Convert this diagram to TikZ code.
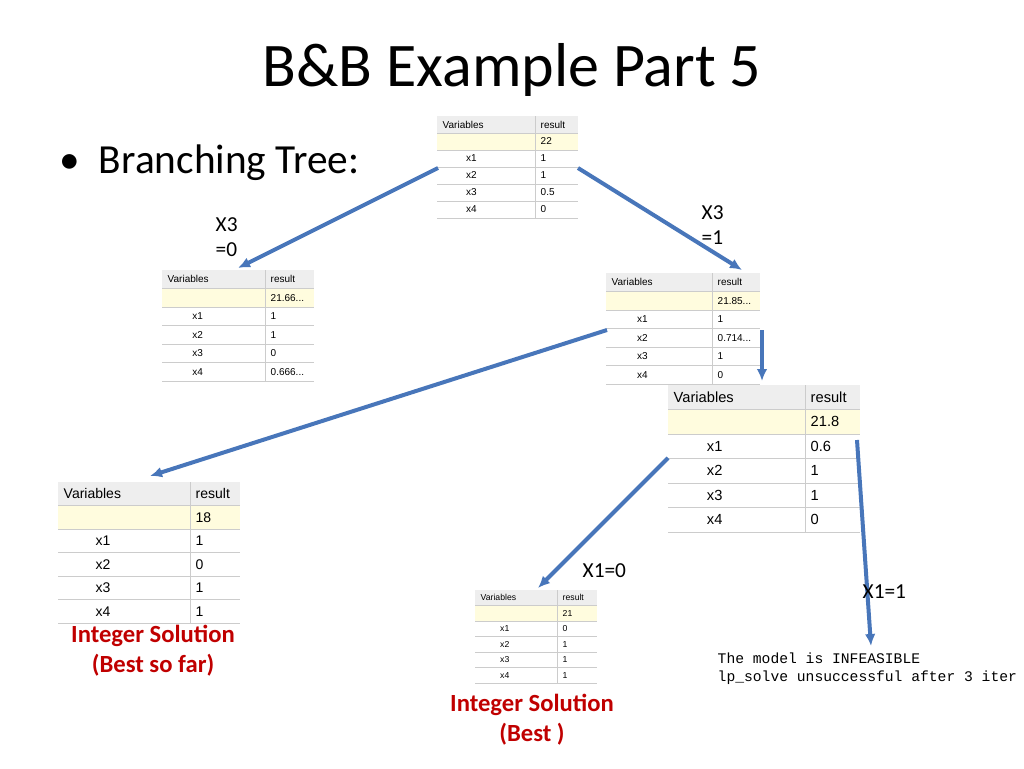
\documentclass[tikz,border=0pt]{standalone}
\usepackage{fontspec}
\setmainfont{Carlito}
\newfontfamily\tabfont{Liberation Sans}
\newfontfamily\monofont{Liberation Mono}
\usetikzlibrary{arrows.meta, positioning}
\definecolor{arrowblue}{RGB}{72,118,186}
\definecolor{rowyellow}{RGB}{255,252,222}
\definecolor{headgray}{RGB}{238,238,238}
\definecolor{solred}{RGB}{192,0,0}

% frame of an lp_solve result table: name, left, top, width, split, row height, font size
\newcommand{\restable}[7]{%
 \def\tbx{#2}\def\tby{#3}\def\tbs{#5}\def\tbh{#6}\def\tbf{#7}%
 \fill[white] (#2,#3) rectangle ++(#4,6*#6);
 \fill[headgray] (#2,#3) rectangle ++(#4,#6);
 \fill[rowyellow] (#2,#3+#6) rectangle ++(#4,#6);
 \foreach \r in {1,...,6} \draw[gray!40, line width=0.4pt] (#2,#3+\r*#6) -- ++(#4,0);
 \draw[gray!40, line width=0.4pt] (#2+#5,#3) -- ++(0,6*#6);
 \node[coordinate] (#1) at (#2+#4/2,#3+3*#6) {};
 \node[anchor=west, font=\tabfont\fontsize{#7}{#7}\selectfont] at (#2+1,#3+#6/2) {Variables};
 \node[anchor=west, font=\tabfont\fontsize{#7}{#7}\selectfont] at (#2+#5+1,#3+#6/2) {result};
 \foreach \k in {1,...,4}
  \node[anchor=west, font=\tabfont\fontsize{#7}{#7}\selectfont] at (#2+#5*0.25,#3+1.5*#6+\k*#6) {x\k};}
% values of the last table: objective, x1..x4
\newcommand{\tabvals}[5]{%
 \tikzset{tv/.style={anchor=west, font=\tabfont\fontsize{\tbf}{\tbf}\selectfont}}
 \node[tv] at (\tbx+\tbs+1,\tby+1.5*\tbh) {#1};
 \node[tv] at (\tbx+\tbs+1,\tby+2.5*\tbh) {#2};
 \node[tv] at (\tbx+\tbs+1,\tby+3.5*\tbh) {#3};
 \node[tv] at (\tbx+\tbs+1,\tby+4.5*\tbh) {#4};
 \node[tv] at (\tbx+\tbs+1,\tby+5.5*\tbh) {#5};}

\begin{document}
\begin{tikzpicture}[x=0.75pt, y=-0.75pt, >={Latex[length=9pt,width=8pt]}]
 \tikzset{
 branch/.style = {draw=arrowblue, line width=3pt, ->},
 lbl/.style = {font=\fontsize{16}{19}\selectfont, align=left},
 sol/.style = {font=\fontsize{18.5}{22.5}\selectfont\bfseries, text=solred, align=center},
 }
 \useasboundingbox (0,0) rectangle (1024,768);

 % title and bullet
 \node[font=\fontsize{46.5}{50}\selectfont] (title) at (512,70) {B\&B Example Part 5};
 \node[anchor=west, font=\fontsize{31}{34}\selectfont] (bullet) at (55,163) {\textbullet\ \ Branching Tree:};

 % result tables
 \restable{root}{437}{116}{141}{98}{17}{7.5}
 \tabvals{22}{1}{1}{0.5}{0}
 \restable{left}{162}{270}{152}{103}{18.5}{7.5}
 \tabvals{21.66...}{1}{1}{0}{0.666...}
 \restable{right}{606}{273}{154}{106}{18.5}{7.5}
 \tabvals{21.85...}{1}{0.714...}{1}{0}
 \restable{rightd}{668}{385}{192}{137}{24.5}{11}
 \tabvals{21.8}{0.6}{1}{1}{0}
 \restable{lleaf}{58}{482}{182}{132}{23.5}{10.5}
 \tabvals{18}{1}{0}{1}{1}
 \restable{bleaf}{475}{590}{122}{82}{15.5}{6.5}
 \tabvals{21}{0}{1}{1}{1}

 % arrow end points
 \coordinate (rootL) at (438,168);
 \coordinate (rootR) at (578,168);
 \coordinate (leftT) at (238,268);
 \coordinate (rightT) at (742,270);
 \coordinate (rightW) at (607,330);
 \coordinate (rightE) at (762,330);
 \coordinate (lleafT) at (150,476);
 \coordinate (rightdT) at (762,381);
 \coordinate (rightdW) at (668,458);
 \coordinate (rightdE) at (857,440);
 \coordinate (bleafT) at (538,588);
 \coordinate (infeas) at (871,646);

 \draw[branch] (rootL) -- (leftT);
 \draw[branch] (rootR) -- (rightT);
 \draw[branch] (rightW) -- (lleafT);
 \draw[branch] (rightE) -- (rightdT);
 \draw[branch] (rightdW) -- (bleafT);
 \draw[branch] (rightdE) -- (infeas);

 % branch labels
 \node[lbl, anchor=west] (x3zero) at (211,237) {X3\\=0};
 \node[lbl, anchor=west] (x3one) at (697,225) {X3\\=1};
 \node[lbl, anchor=west] (x1zero) at (578,571) {X1=0};
 \node[lbl, anchor=west] (x1one) at (858,592) {X1=1};

 % solutions
 \node[sol] (bestsofar) at (153,651) {Integer Solution\\(Best so far)};
 \node[sol] (best) at (532,720) {Integer Solution\\(Best )};
 \node[anchor=west, align=left, font=\monofont\fontsize{11}{13.5}\selectfont] (infeastext) at (713,669) {The model is INFEASIBLE\\lp\_solve unsuccessful after 3 iter};
\end{tikzpicture}
\end{document}
